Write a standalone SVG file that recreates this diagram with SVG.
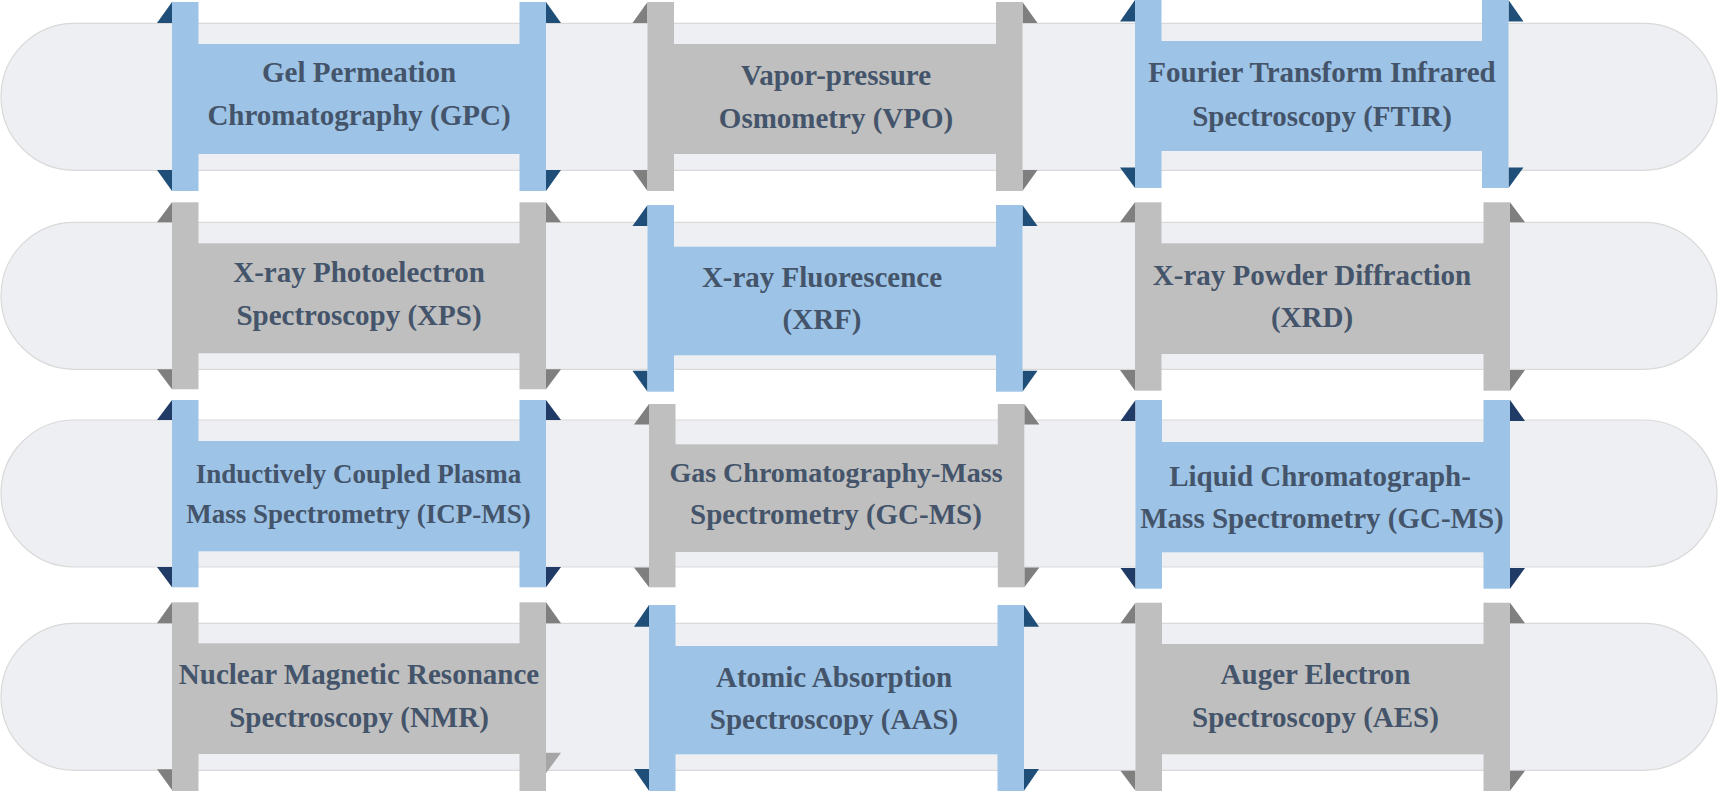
<svg xmlns="http://www.w3.org/2000/svg" width="1718" height="791" viewBox="0 0 1718 791">
<style>
.band{fill:#EEEFF3;stroke:#D9D9D9;stroke-width:1.2}
.blue .bar{fill:#9DC3E6}
.blue .tri{fill:#1F4E79}
.blue.dk .tri{fill:#1F3B66}
.gray .bar{fill:#BFBFBF}
.gray .tri{fill:#7F7F7F}
.gray .tri2{fill:#A6A6A6}
.lbl{font-family:"Liberation Serif","Times New Roman",serif;font-weight:bold;font-size:29px;fill:#44546A;text-anchor:middle}
</style>
<rect width="1718" height="791" fill="#FFFFFF"/>
<g id="bands">
<rect class="band" x="1" y="23.3" width="1716" height="147" rx="73.5"/>
<rect class="band" x="1" y="222.3" width="1716" height="147" rx="73.5"/>
<rect class="band" x="1" y="420" width="1716" height="147" rx="73.5"/>
<rect class="band" x="1" y="623.3" width="1716" height="147" rx="73.5"/>
</g>
<g id="connectors"/>

<g id="node-gpc" class="blue">
<polygon class="tri" points="172,2 157,23 172,23"/>
<polygon class="tri" points="546,2 561,23 546,23"/>
<polygon class="tri" points="157,170 172,170 172,191"/>
<polygon class="tri" points="546,170 561,170 546,191"/>
<rect class="bar" x="172" y="2" width="26.5" height="189"/>
<rect class="bar" x="519.5" y="2" width="26.5" height="189"/>
<rect class="bar" x="198" y="44" width="322" height="110"/>
<text class="lbl" x="359" y="81.5">Gel Permeation</text>
<text class="lbl" x="359" y="125">Chromatography (GPC)</text>
</g>

<g id="node-vpo" class="gray">
<polygon class="tri" points="647.5,2 632.5,23 647.5,23"/>
<polygon class="tri" points="1022.5,2 1037.5,23 1022.5,23"/>
<polygon class="tri" points="632.5,170 647.5,170 647.5,191"/>
<polygon class="tri" points="1022.5,170 1037.5,170 1022.5,191"/>
<rect class="bar" x="647.5" y="2" width="26.5" height="189"/>
<rect class="bar" x="996" y="2" width="26.5" height="189"/>
<rect class="bar" x="673.5" y="44" width="323" height="110"/>
<text class="lbl" x="836" y="84.5">Vapor-pressure</text>
<text class="lbl" x="836" y="128">Osmometry (VPO)</text>
</g>

<g id="node-ftir" class="blue">
<polygon class="tri" points="1135,0 1120,21.5 1135,21.5"/>
<polygon class="tri" points="1508.5,0 1523.5,21.5 1508.5,21.5"/>
<polygon class="tri" points="1120,167.5 1135,167.5 1135,188"/>
<polygon class="tri" points="1508.5,167.5 1523.5,167.5 1508.5,188"/>
<rect class="bar" x="1135" y="-1" width="26.5" height="189"/>
<rect class="bar" x="1482" y="-1" width="26.5" height="189"/>
<rect class="bar" x="1161" y="41" width="321.5" height="110"/>
<text class="lbl" x="1322" y="82">Fourier Transform Infrared</text>
<text class="lbl" x="1322" y="125.5">Spectroscopy (FTIR)</text>
</g>

<g id="node-xps" class="gray">
<polygon class="tri" points="172,202.3 157,222.3 172,222.3"/>
<polygon class="tri" points="546,202.3 561,222.3 546,222.3"/>
<polygon class="tri" points="157,369.3 172,369.3 172,389.3"/>
<polygon class="tri" points="546,369.3 561,369.3 546,389.3"/>
<rect class="bar" x="172" y="202.3" width="26.5" height="187"/>
<rect class="bar" x="519.5" y="202.3" width="26.5" height="187"/>
<rect class="bar" x="198" y="243.3" width="322" height="110"/>
<text class="lbl" x="359" y="282.3">X-ray Photoelectron</text>
<text class="lbl" x="359" y="325">Spectroscopy (XPS)</text>
</g>

<g id="node-xrf" class="blue">
<polygon class="tri" points="647.5,205 632.5,226 647.5,226"/>
<polygon class="tri" points="1022.5,205 1037.5,226 1022.5,226"/>
<polygon class="tri" points="632.5,370.7 647.5,370.7 647.5,391.7"/>
<polygon class="tri" points="1022.5,370.7 1037.5,370.7 1022.5,391.7"/>
<rect class="bar" x="647.5" y="205" width="26.5" height="186.7"/>
<rect class="bar" x="996" y="205" width="26.5" height="186.7"/>
<rect class="bar" x="673.5" y="246.7" width="323" height="108.6"/>
<text class="lbl" x="822" y="286.7">X-ray Fluorescence</text>
<text class="lbl" x="822" y="328.5">(XRF)</text>
</g>

<g id="node-xrd" class="gray">
<polygon class="tri" points="1135,202.3 1120,222.3 1135,222.3"/>
<polygon class="tri" points="1510,202.3 1525,222.3 1510,222.3"/>
<polygon class="tri" points="1120,370 1135,370 1135,390.7"/>
<polygon class="tri" points="1510,370 1525,370 1510,390.7"/>
<rect class="bar" x="1135" y="202.3" width="26.5" height="188.4"/>
<rect class="bar" x="1483.5" y="202.3" width="26.5" height="188.4"/>
<rect class="bar" x="1161" y="243.3" width="323" height="110.7"/>
<text class="lbl" x="1312" y="284.5">X-ray Powder Diffraction</text>
<text class="lbl" x="1312" y="326.5">(XRD)</text>
</g>

<g id="node-icpms" class="blue dk">
<polygon class="tri" points="172,400 157,420 172,420"/>
<polygon class="tri" points="546,400 561,420 546,420"/>
<polygon class="tri" points="157,567 172,567 172,587.3"/>
<polygon class="tri" points="546,567 561,567 546,587.3"/>
<rect class="bar" x="172" y="400" width="26.5" height="187.3"/>
<rect class="bar" x="519.5" y="400" width="26.5" height="187.3"/>
<rect class="bar" x="198" y="441" width="322" height="110.3"/>
<text class="lbl" x="358.5" y="483" style="font-size:27px">Inductively Coupled Plasma</text>
<text class="lbl" x="358.5" y="523" style="font-size:27px">Mass Spectrometry (ICP-MS)</text>
</g>

<g id="node-gcms" class="gray">
<polygon class="tri" points="649,404 634,424.5 649,424.5"/>
<polygon class="tri" points="1024.3,404 1039.3,424.5 1024.3,424.5"/>
<polygon class="tri" points="634,567.5 649,567.5 649,587.3"/>
<polygon class="tri" points="1024.3,567.5 1039.3,567.5 1024.3,587.3"/>
<rect class="bar" x="649" y="404" width="26.5" height="183.3"/>
<rect class="bar" x="997.8" y="404" width="26.5" height="183.3"/>
<rect class="bar" x="675" y="444.3" width="323.3" height="107.7"/>
<text class="lbl" x="836" y="481.7" style="font-size:28px">Gas Chromatography-Mass</text>
<text class="lbl" x="836" y="523.5">Spectrometry (GC-MS)</text>
</g>

<g id="node-lcms" class="blue dk">
<polygon class="tri" points="1135.5,400 1120.5,421 1135.5,421"/>
<polygon class="tri" points="1510,400 1525,421 1510,421"/>
<polygon class="tri" points="1120.5,568 1135.5,568 1135.5,588.7"/>
<polygon class="tri" points="1510,568 1525,568 1510,588.7"/>
<rect class="bar" x="1135.5" y="400" width="26.5" height="188.7"/>
<rect class="bar" x="1483.5" y="400" width="26.5" height="188.7"/>
<rect class="bar" x="1161.5" y="442" width="322.5" height="110.3"/>
<text class="lbl" x="1320" y="485.7">Liquid Chromatograph-</text>
<text class="lbl" x="1322" y="527.7">Mass Spectrometry (GC-MS)</text>
</g>

<g id="node-nmr" class="gray">
<polygon class="tri" points="172,602.3 157,623.3 172,623.3"/>
<polygon class="tri" points="546,602.3 561,623.3 546,623.3"/>
<polygon class="tri" points="157,769.3 172,769.3 172,790"/>
<polygon class="tri2" points="546,752.7 561,752.7 546,773.3"/>
<rect class="bar" x="172" y="602.3" width="26.5" height="200"/>
<rect class="bar" x="519.5" y="602.3" width="26.5" height="200"/>
<rect class="bar" x="198" y="643.3" width="322" height="110.7"/>
<text class="lbl" x="359" y="684">Nuclear Magnetic Resonance</text>
<text class="lbl" x="359" y="727">Spectroscopy (NMR)</text>
</g>

<g id="node-aas" class="blue">
<polygon class="tri" points="649,605 634,626.7 649,626.7"/>
<polygon class="tri" points="1024,605 1039,626.7 1024,626.7"/>
<polygon class="tri" points="634,769 649,769 649,790.7"/>
<polygon class="tri" points="1024,769 1039,769 1024,790.7"/>
<rect class="bar" x="649" y="605" width="26.5" height="195"/>
<rect class="bar" x="997.5" y="605" width="26.5" height="195"/>
<rect class="bar" x="675" y="646" width="323" height="108.3"/>
<text class="lbl" x="834" y="687">Atomic Absorption</text>
<text class="lbl" x="834" y="729">Spectroscopy (AAS)</text>
</g>

<g id="node-aes" class="gray">
<polygon class="tri" points="1135.5,602.7 1120.5,623.3 1135.5,623.3"/>
<polygon class="tri" points="1510,602.7 1525,623.3 1510,623.3"/>
<polygon class="tri" points="1120.5,770.7 1135.5,770.7 1135.5,790.7"/>
<polygon class="tri" points="1510,770.7 1525,770.7 1510,790.7"/>
<rect class="bar" x="1135.5" y="602.7" width="26.5" height="197.3"/>
<rect class="bar" x="1483.5" y="602.7" width="26.5" height="197.3"/>
<rect class="bar" x="1161.5" y="644" width="322.5" height="110.3"/>
<text class="lbl" x="1315.5" y="684">Auger Electron</text>
<text class="lbl" x="1315.5" y="727">Spectroscopy (AES)</text>
</g>
</svg>
